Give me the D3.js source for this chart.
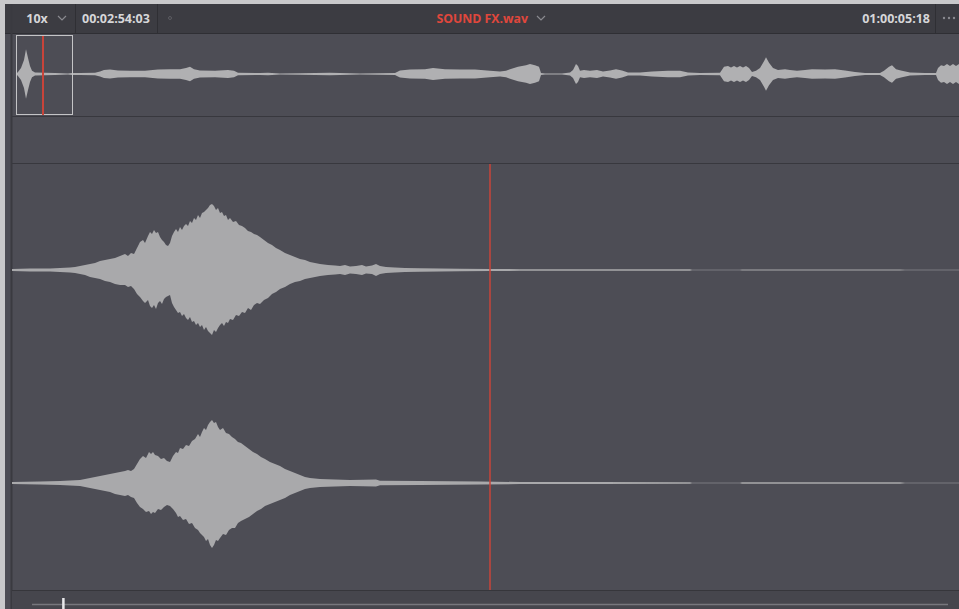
<!DOCTYPE html>
<html>
<head>
<meta charset="utf-8">
<script src="https://cdn.jsdelivr.net/npm/d3@7"></script>
<style>
  body { margin: 0; background: #4d4d55; }
  svg { display: block; }
  text { font-family: "Open Sans", "DejaVu Sans", sans-serif; font-weight: 700; }
</style>
</head>
<body>
<svg id="chart" width="959" height="609"></svg>
<script>
// header labels
var zoomLabel = "10x";
var sourceTC = "00:02:54:03";
var clipName = "SOUND FX.wav";
var recordTC = "01:00:05:18";

// overview envelope: [time, amplitude]
var overview = [
  [0,0],[2,5],[5,15],[8,35],[10,62],[12,40],[14,20],[16,8],[19,4],[29,3],[39,2.5],[52,1.2],[56,2.5],
  [64,2.5],[79,3],[84,6],[88,10],[94,11],[102,9],[114,8],[129,8],[142,11],[154,12],[164,12],[170,15],
  [174,18],[178,12],[184,9],[199,8],[212,10],[218,8],[222,3],[244,2.5],[252,3],[264,1.2],[284,2],
  [314,3],[344,1.2],[379,2.5],[384,9],[394,11],[409,12],[417,15],[429,12],[444,11],[459,11],[474,8],
  [484,6],[490,8],[494,12],[502,18],[510,22],[514,25],[519,22],[523,18],[525,2.5],[529,1.2],[546,1.2],
  [554,4],[557,10],[560,25],[562,20],[564,8],[568,10],[574,8],[581,10],[587,6],[594,9],[600,12],
  [606,9],[612,4],[624,4],[636,6],[652,8],[664,8],[672,4],[684,2.5],[704,3],[708,18],[712,20],
  [715,16],[718,20],[721,16],[724,20],[727,16],[730,20],[733,15],[736,5],[740,8],[744,15],[748,32],
  [750,42],[753,28],[757,15],[762,10],[769,12],[774,10],[781,8],[789,10],[796,12],[809,11],[819,12],
  [829,9],[839,5],[849,2.5],[864,2.5],[868,8],[873,18],[876,22],[880,12],[886,8],[894,4],[909,2.5],
  [920,2.5],[922,15],[925,22],[928,20],[931,25],[934,20],[937,25],[940,20],[943,25]
];

// zoomed view, channel 1: [time, upper, lower]
var channel1 = [
  [0,1,1],[18,1.5,1.5],[38,1.5,1.5],[48,2,2],[58,2.5,2.5],[63,3,3],[68,4,4],[73,5,5],[78,6,7],
  [83,7,8],[88,9,9],[93,10,11],[98,11,12],[103,12,14],[108,14,15],[113,16,15],[116,14,17],[119,17,16],
  [122,16,19],[125,22,24],[128,28,27],[131,30,31],[133,27,33],[136,34,30],[138,38,36],[140,36,38],
  [142,40,35],[144,37,39],[146,38,33],[148,33,31],[150,30,34],[152,28,29],[154,25,27],[156,24,26],
  [158,27,25],[160,34,33],[162,38,37],[164,41,40],[166,38,43],[168,43,42],[170,40,46],[172,44,44],
  [174,46,48],[176,44,50],[178,49,47],[180,47,52],[182,52,51],[184,50,55],[186,55,53],[188,52,57],
  [190,57,55],[192,58,60],[194,60,57],[196,62,61],[198,65,63],[200,66,65],[202,64,60],[204,60,62],
  [206,62,58],[208,57,55],[210,58,53],[212,54,56],[214,55,52],[216,50,53],[218,52,49],[221,48,50],
  [224,49,45],[227,45,46],[230,44,42],[233,42,43],[236,39,38],[239,38,40],[242,36,35],[245,35,33],
  [248,33,34],[252,30,30],[256,27,28],[260,25,24],[264,22,22],[268,20,19],[273,17,17],[278,15,14],
  [283,13,12],[288,11,11],[293,10,9],[298,8,8],[303,7,7],[308,6,6],[316,5,5],[323,4.5,4.5],[328,4,4],
  [333,5,5],[338,3.5,3.5],[344,4,4],[350,5,5],[354,3.5,3.5],[360,4.5,4],[364,6,6],[368,4,4],[374,3,3],
  [383,2.5,2.5],[393,2,2],[408,1.8,1.8],[428,1.5,1.5],[448,1.3,1.3],[478,1.1,1.1],[508,0.8,0.8],
  [548,0.8,0.8],[588,0.7,0.7],[638,0.7,0.7],[678,0.7,0.7],[680,0.2,0.2],[728,0.2,0.2],[730,0.6,0.6],
  [788,0.6,0.6],[888,0.6,0.6],[893,0.2,0.2],[947,0.2,0.2]
];

// zoomed view, channel 2: [time, upper, lower]
var channel2 = [
  [0,1,1],[28,1.5,1.5],[48,2,2],[58,2.5,2.5],[68,3,3],[78,5,5],[88,7,7],[98,9,9],[103,10,11],
  [108,11,12],[113,12,13],[116,13,12],[119,12,14],[122,14,15],[125,19,20],[128,24,24],[131,27,26],
  [134,25,29],[137,31,28],[139,29,31],[141,31,29],[143,28,30],[146,27,26],[149,24,27],[152,25,24],
  [155,22,22],[158,21,23],[161,27,26],[164,31,30],[166,30,34],[168,35,33],[171,34,37],[174,38,36],
  [177,37,41],[180,42,40],[183,44,45],[186,49,47],[188,46,50],[190,51,52],[192,55,54],[194,53,58],
  [196,58,56],[198,61,62],[200,63,65],[202,60,62],[204,61,57],[206,56,58],[208,53,55],[211,55,51],
  [214,50,52],[217,49,47],[220,46,45],[223,44,45],[226,41,40],[229,40,38],[233,37,36],[237,34,34],
  [241,31,31],[245,29,28],[249,26,26],[253,24,23],[258,21,21],[263,19,19],[268,17,17],[273,14,15],
  [278,12,12],[283,10,10],[288,8,8],[293,6,6],[298,5,5],[308,4,4],[323,3.5,3.5],[338,3,3],
  [364,3.5,3.5],[368,2.2,2.2],[408,2,2],[468,1.5,1.5],[508,1,1],[588,0.9,0.9],[678,0.8,0.8],
  [680,0.2,0.2],[728,0.2,0.2],[730,0.7,0.7],[888,0.7,0.7],[893,0.2,0.2],[947,0.2,0.2]
];

var overviewWindow = [0, 56];   // visible range box, overview time units
var overviewPlayhead = 27;
var viewPlayhead = 478;         // zoomed view time units
var scrollPos = 0.034;          // scrollbar handle, fraction of track

var W = 959, H = 609;
var bg = "#4d4d55", headerBg = "#3c3c42", lineCol = "#38383e", wave = "#a9a9ab", red = "#c8443a";

var svg = d3.select("#chart");

svg.append("rect").attr("width", W).attr("height", H).attr("fill", bg);
// outer light frame
svg.append("rect").attr("x", 0).attr("y", 0).attr("width", W).attr("height", 4).attr("fill", "#c9c9cb");
svg.append("rect").attr("x", 0).attr("y", 0).attr("width", 5).attr("height", H).attr("fill", "#c9c9cb");

// header
svg.append("rect").attr("x", 5).attr("y", 4).attr("width", W - 5).attr("height", 29).attr("fill", headerBg);
svg.append("line").attr("x1", 5).attr("x2", W).attr("y1", 33.5).attr("y2", 33.5).attr("stroke", "#2f2f34");
[75.5, 157.5, 935.5].forEach(function (x) {
  svg.append("line").attr("x1", x).attr("x2", x).attr("y1", 4).attr("y2", 33).attr("stroke", "#2f2f34");
});
svg.append("line").attr("x1", 11.5).attr("x2", 11.5).attr("y1", 4).attr("y2", H).attr("stroke", "#3a3a40").attr("stroke-width", 2);

var hdr = svg.append("g").attr("font-size", 12.5);
hdr.append("text").attr("x", 37).attr("y", 23).attr("text-anchor", "middle").attr("fill", "#d6d6d8").text(zoomLabel);
hdr.append("text").attr("x", 82).attr("y", 23).attr("fill", "#d6d6d8").text(sourceTC);
hdr.append("text").attr("x", 528).attr("y", 23).attr("text-anchor", "end").attr("font-size", 12.3).attr("fill", "#e0473c").text(clipName);
hdr.append("text").attr("x", 930).attr("y", 23).attr("text-anchor", "end").attr("fill", "#d6d6d8").text(recordTC);
function chevron(x) {
  hdr.append("path").attr("d", "M" + (x - 4) + ",16 L" + x + ",20 L" + (x + 4) + ",16")
    .attr("fill", "none").attr("stroke", "#8a8a90").attr("stroke-width", 1.2);
}
chevron(62); chevron(541);
hdr.append("circle").attr("cx", 170).attr("cy", 18).attr("r", 1.5).attr("fill", "none").attr("stroke", "#5c5c62");
[944, 949, 954].forEach(function (x) {
  hdr.append("circle").attr("cx", x).attr("cy", 18).attr("r", 1.2).attr("fill", "#8a8a90");
});

// overview strip
var ox = d3.scaleLinear().domain([0, 943]).range([16, 959]);
var oy = d3.scaleLinear().domain([-100, 100]).range([74 + 40, 74 - 40]);
var ovArea = d3.area().x(function (d) { return ox(d[0]); })
  .y0(function (d) { return oy(-d[1]); }).y1(function (d) { return oy(d[1]); });
svg.append("path").datum(overview).attr("d", ovArea).attr("fill", "#b0b0b2");
svg.append("line").attr("x1", 12).attr("x2", W).attr("y1", 116.5).attr("y2", 116.5).attr("stroke", lineCol);
svg.append("line").attr("x1", 12).attr("x2", W).attr("y1", 163.5).attr("y2", 163.5).attr("stroke", lineCol);
svg.append("rect").attr("x", ox(overviewWindow[0]) + 0.5).attr("y", 35.5)
  .attr("width", ox(overviewWindow[1]) - ox(overviewWindow[0])).attr("height", 79)
  .attr("fill", "none").attr("stroke", "#c4c4c6").attr("stroke-width", 1);
svg.append("line").attr("x1", ox(overviewPlayhead)).attr("x2", ox(overviewPlayhead))
  .attr("y1", 36).attr("y2", 115).attr("stroke", red).attr("stroke-width", 2);

// zoomed waveform
var vx = d3.scaleLinear().domain([0, 947]).range([12, 959]);
function drawChannel(data, center) {
  var vy = d3.scaleLinear().domain([-100, 100]).range([center + 100, center - 100]);
  var area = d3.area().x(function (d) { return vx(d[0]); })
    .y0(function (d) { return vy(-d[2]); }).y1(function (d) { return vy(d[1]); });
  svg.append("path").datum(data).attr("d", area).attr("fill", wave);
}
drawChannel(channel1, 270);
drawChannel(channel2, 483);

svg.append("line").attr("x1", vx(viewPlayhead)).attr("x2", vx(viewPlayhead))
  .attr("y1", 164).attr("y2", 590).attr("stroke", red).attr("stroke-width", 1.5);

// bottom scroll bar
svg.append("rect").attr("x", 12).attr("y", 591).attr("width", W - 12).attr("height", 18).attr("fill", "#46464d");
svg.append("line").attr("x1", 12).attr("x2", W).attr("y1", 590.5).attr("y2", 590.5).attr("stroke", "#36363b");
var sx = d3.scaleLinear().domain([0, 1]).range([32, 948]);
svg.append("line").attr("x1", sx(0)).attr("x2", sx(1)).attr("y1", 604.5).attr("y2", 604.5)
  .attr("stroke", "#77777d").attr("stroke-width", 1.5);
svg.append("rect").attr("x", sx(scrollPos) - 1).attr("y", 598).attr("width", 2.5).attr("height", 11).attr("fill", "#e8e8ea");
</script>
</body>
</html>
